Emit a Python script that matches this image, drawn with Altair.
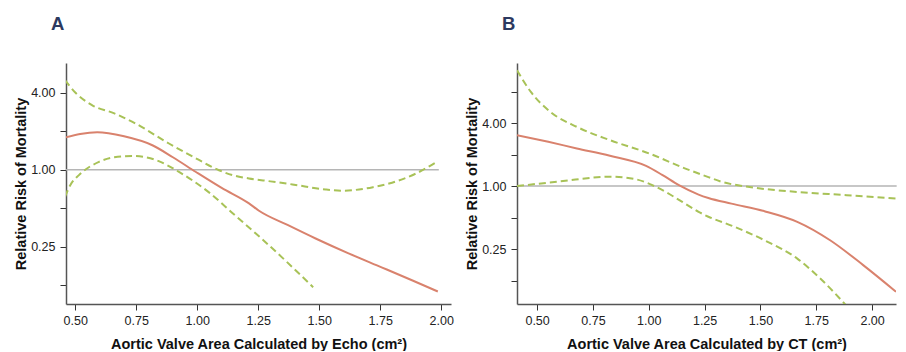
import altair as alt
import pandas as pd

# ---------------- Panel A (Echo) ----------------
a_est_x = [0.458, 0.52, 0.59, 0.70, 0.816, 0.90, 0.993, 1.10, 1.212, 1.253, 1.37, 1.485, 1.62, 1.758, 1.88, 1.986]
a_est_y = [1.78, 1.90, 1.96, 1.82, 1.55, 1.25, 0.963, 0.72, 0.545, 0.478, 0.37, 0.29, 0.222, 0.172, 0.137, 0.112]

a_up_x = [0.458, 0.50, 0.57, 0.66, 0.747, 0.884, 1.007, 1.089, 1.15, 1.212, 1.30, 1.39, 1.526, 1.60, 1.663, 1.72, 1.786, 1.895, 1.986]
a_up_y = [4.99, 4.00, 3.18, 2.75, 2.29, 1.60, 1.19, 0.99, 0.90, 0.854, 0.81, 0.767, 0.70, 0.685, 0.70, 0.73, 0.78, 0.93, 1.165]

a_lo_x = [0.458, 0.48, 0.515, 0.597, 0.66, 0.734, 0.83, 0.925, 1.048, 1.150, 1.253, 1.364, 1.475]
a_lo_y = [0.615, 0.76, 0.906, 1.15, 1.25, 1.28, 1.19, 0.96, 0.665, 0.448, 0.302, 0.193, 0.121]

a_ref_x = [0.462]
a_ref_x2 = [1.99]

# ---------------- Panel B (CT) ----------------
b_est_x = [0.41, 0.55, 0.678, 0.826, 0.988, 1.06, 1.135, 1.223, 1.267, 1.37, 1.518, 1.665, 1.812, 1.96, 2.107]
b_est_y = [3.07, 2.65, 2.29, 1.95, 1.56, 1.28, 1.02, 0.83, 0.77, 0.68, 0.576, 0.456, 0.304, 0.176, 0.098]

b_up_x = [0.41, 0.472, 0.559, 0.678, 0.826, 1.002, 1.164, 1.223, 1.267, 1.326, 1.444, 1.665, 1.886, 2.107]
b_up_y = [12.8, 7.95, 5.13, 3.68, 2.75, 2.05, 1.47, 1.32, 1.22, 1.10, 0.985, 0.88, 0.82, 0.76]

b_lo_x = [0.41, 0.605, 0.826, 0.943, 1.032, 1.15, 1.223, 1.267, 1.37, 1.518, 1.665, 1.768, 1.89]
b_lo_y = [1.0, 1.11, 1.23, 1.16, 0.985, 0.707, 0.568, 0.51, 0.42, 0.304, 0.203, 0.131, 0.07]

b_ref_x = [0.41]
b_ref_x2 = [2.11]

x_ticks = [0.5, 0.75, 1.0, 1.25, 1.5, 1.75, 2.0]
a_y_ticks = [0.125, 0.25, 0.5, 1, 2, 4]
b_y_ticks = [0.125, 0.25, 0.5, 1, 2, 4, 8]
y_labels = [0.25, 1, 4]

RED = "#d9826d"
GREEN = "#a8c257"
FONT = "Liberation Sans"


def panel(letter, xtitle, xdom, ydom, yticks, est, up, lo, ref, w, h):
    xs = alt.Scale(domain=xdom, nice=False, zero=False)
    ys = alt.Scale(type="log", base=2, domain=ydom, nice=False)
    xax = alt.Axis(values=x_ticks, format=".2f", title=xtitle, grid=False,
                   tickSize=6, labelPadding=4, titlePadding=11)
    lab = "[" + ",".join(str(v) for v in y_labels) + "]"
    yax = alt.Axis(values=yticks, title="Relative Risk of Mortality", grid=False,
                   tickSize=6, labelPadding=5, titlePadding=2,
                   labelExpr=f"indexof({lab}, datum.value) >= 0 ? format(datum.value, '.2f') : ''")

    def line(xv, yv, color, dash=None):
        df = pd.DataFrame({"x": xv, "y": yv})
        kw = dict(color=color, strokeWidth=2, interpolate="monotone", clip=True)
        if dash:
            kw["strokeDash"] = dash
        return alt.Chart(df).mark_line(**kw).encode(
            x=alt.X("x:Q", scale=xs, axis=xax),
            y=alt.Y("y:Q", scale=ys, axis=yax),
        )

    refdf = pd.DataFrame({"x": ref[0], "x2": ref[1], "y": [1.0]})
    rule = alt.Chart(refdf).mark_rule(color="#b5b5b5", strokeWidth=1.5).encode(
        x=alt.X("x:Q", scale=xs, axis=xax), x2="x2:Q",
        y=alt.Y("y:Q", scale=ys, axis=yax),
    )
    layers = alt.layer(
        rule,
        line(*up, GREEN, [7, 4]),
        line(*lo, GREEN, [7, 4]),
        line(*est, RED),
    ).properties(
        width=w, height=h,
        title=alt.TitleParams(text=letter, anchor="start", frame="group", dx=-15,
                              fontSize=18.5, font=FONT, fontWeight="bold",
                              color="#2c3960", offset=30),
    )
    return layers


pa = panel("A", "Aortic Valve Area Calculated by Echo (cm²)", [0.462, 2.04], [0.0894, 6.8],
           a_y_ticks, (a_est_x, a_est_y), (a_up_x, a_up_y), (a_lo_x, a_lo_y),
           (a_ref_x, a_ref_x2), 385, 241)
pb = panel("B", "Aortic Valve Area Calculated by CT (cm²)", [0.41, 2.107], [0.0748, 15.0],
           b_y_ticks, (b_est_x, b_est_y), (b_up_x, b_up_y), (b_lo_x, b_lo_y),
           (b_ref_x, b_ref_x2), 379, 241)

chart = alt.hconcat(pa, pb, spacing=10).properties(
    padding={"left": 5, "top": 6, "right": 0, "bottom": 0}
).configure_view(stroke=None).configure_axis(
    domainColor="#555555", domainWidth=1.5, tickColor="#333333", tickWidth=1,
    labelFont=FONT, labelFontSize=12.5, labelColor="#222222",
    titleFont=FONT, titleFontSize=14.5, titleFontWeight="bold", titleColor="#111111",
)

chart.save("out.html", embed_options={"renderer": "svg", "actions": False})
